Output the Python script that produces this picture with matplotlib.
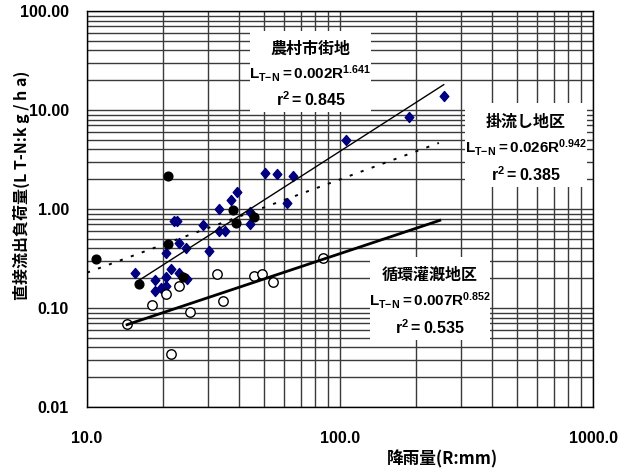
import matplotlib
matplotlib.use("Agg")
import matplotlib.pyplot as plt
from matplotlib.patches import Rectangle
from matplotlib.path import Path
import numpy as np

latin = "Liberation Sans"
cjk = ["Noto Sans CJK JP", "DejaVu Sans"]
plt.rcParams["font.family"] = [latin, "Noto Sans CJK JP", "DejaVu Sans"]
plt.rcParams["font.weight"] = "bold"
plt.rcParams["mathtext.fontset"] = "custom"
plt.rcParams["mathtext.rm"] = latin + ":bold"
plt.rcParams["mathtext.it"] = latin + ":bold"
plt.rcParams["mathtext.bf"] = latin + ":bold"

# 農村市街地 (diamonds)
rural_x = [15.5, 18.6, 18.6, 19.6, 20.5, 20.5, 21.5, 23.0, 24.9, 20.5, 23.0, 24.6,
           22.1, 22.6, 28.7, 30.3, 33.2, 33.2, 35.1, 37.0, 39.1, 43.9, 44.1, 50.5,
           56.2, 61.6, 65.4, 105.3, 187.9, 256.6]
rural_y = [0.227, 0.192, 0.149, 0.160, 0.167, 0.204, 0.250, 0.227, 0.198, 0.357, 0.450, 0.407,
           0.756, 0.756, 0.689, 0.377, 1.01, 0.604, 0.600, 1.23, 1.49, 0.933, 0.701, 2.33,
           2.25, 1.14, 2.13, 5.01, 8.55, 13.95]

# 掛流し地区 (filled circles)
flow_x = [10.9, 20.9, 20.9, 16.0, 24.0, 37.9, 38.8, 45.7]
flow_y = [0.310, 2.17, 0.440, 0.175, 0.206, 0.977, 0.717, 0.836]

# 循環灌漑地区 (open circles)
circ_x = [14.4, 18.0, 20.5, 23.0, 25.5, 21.4, 32.6, 34.6, 45.9, 49.0, 54.5, 85.9]
circ_y = [0.069, 0.106, 0.139, 0.168, 0.091, 0.034, 0.221, 0.119, 0.209, 0.219, 0.183, 0.320]

# regressions L = a * R^b, r2, and x range of each trend line
fits = {
    "rural": (0.002, 1.641, 0.845, 16.0, 257.0),
    "flow": (0.026, 0.942, 0.385, 10.0, 246.0),
    "circ": (0.007, 0.852, 0.535, 14.4, 248.0),
}

xticks = [10, 100, 1000]
xlabels = ["10.0", "100.0", "1000.0"]
yticks = [0.01, 0.1, 1, 10, 100]
ylabels = ["0.01", "0.10", "1.00", "10.00", "100.00"]

fig = plt.figure(figsize=(6.24, 4.7), dpi=100)
ax = fig.add_axes([87 / 624, 1 - 407 / 470, 506 / 624, 396 / 470])
ax.set_xscale("log")
ax.set_yscale("log")
ax.set_xlim(10, 1000)
ax.set_ylim(0.01, 100)

ax.grid(True, which="both", color="#3a3a3a", lw=1.0, zorder=0)
ax.set_axisbelow(True)
for s in ax.spines.values():
    s.set_color("black")
    s.set_linewidth(1.0)

ax.set_xticks(xticks)
ax.set_xticklabels(xlabels)
ax.set_yticks(yticks)
ax.set_yticklabels(ylabels)
ax.tick_params(which="both", length=0)
ax.tick_params(axis="x", pad=17, labelsize=11.5)
ax.tick_params(axis="y", pad=13, labelsize=11.5)

diamond = Path([(0, 1), (0.86, 0), (0, -1), (-0.86, 0), (0, 1)],
               [Path.MOVETO, Path.LINETO, Path.LINETO, Path.LINETO, Path.CLOSEPOLY])

ax.plot(rural_x, rural_y, ls="none", marker=diamond, ms=7.2, color="#000080", zorder=3)
ax.plot(flow_x, flow_y, ls="none", marker="o", ms=6.3, color="black", zorder=3)
ax.plot(circ_x, circ_y, ls="none", marker="o", ms=6.8, mfc="white", mec="black",
        mew=1.0, zorder=4)

styles = {
    "rural": dict(color="black", lw=1.0, ls="-"),
    "flow": dict(color="black", lw=1.4, ls=(0, (1.6, 4.4))),
    "circ": dict(color="black", lw=2.0, ls="-"),
}
for key, (a, b, r2, x0, x1) in fits.items():
    xs = np.logspace(np.log10(x0), np.log10(x1), 50)
    ax.plot(xs, a * xs ** b, zorder=5, **styles[key])

# annotation boxes (axes fraction)
def box(x0, y0, x1, y1, title, a, b, r2):
    ax.add_patch(Rectangle((x0, y0), x1 - x0, y1 - y0, transform=ax.transAxes,
                           facecolor="white", edgecolor="none", zorder=6))
    xc = (x0 + x1) / 2
    h = y1 - y0
    ax.text(xc, y1 - h * 0.22, title, transform=ax.transAxes, ha="center", va="center",
            family=cjk, fontsize=11.5, fontweight="bold", zorder=7)
    ax.text(xc, y1 - h * 0.53, r"$\mathregular{L_{T{-}N} = %.3fR^{%.3f}}$" % (a, b),
            transform=ax.transAxes, ha="center", va="center", fontsize=11, zorder=7)
    ax.text(xc, y1 - h * 0.85, r"$\mathregular{r^{2} = %.3f}$" % r2,
            transform=ax.transAxes, ha="center", va="center", fontsize=11.5, zorder=7)

def frac(px, py):
    return (px - 87) / 506, (407 - py) / 396

bx = [(250, 112, 371, 31, "農村市街地", "rural"),
      (465, 187, 587, 103, "掛流し地区", "flow"),
      (370, 340, 490, 257, "循環灌漑地区", "circ")]
for px0, py0, px1, py1, title, key in bx:
    x0, y0 = frac(px0, py0)
    x1, y1 = frac(px1, py1)
    a, b, r2 = fits[key][:3]
    box(x0, y0, x1, y1, title, a, b, r2)

fig.text(442 / 624, 1 - 459 / 470, "降雨量(R:mm)", ha="center", va="center",
         family=cjk, fontsize=12, fontweight="bold")
fig.text(21 / 624, 1 - 185 / 470, "直接流出負荷量(L T-N:k g / h a)", rotation=90,
         ha="center", va="center", family=cjk, fontsize=11.5, fontweight="bold")

fig.savefig("out.png", dpi=100)
